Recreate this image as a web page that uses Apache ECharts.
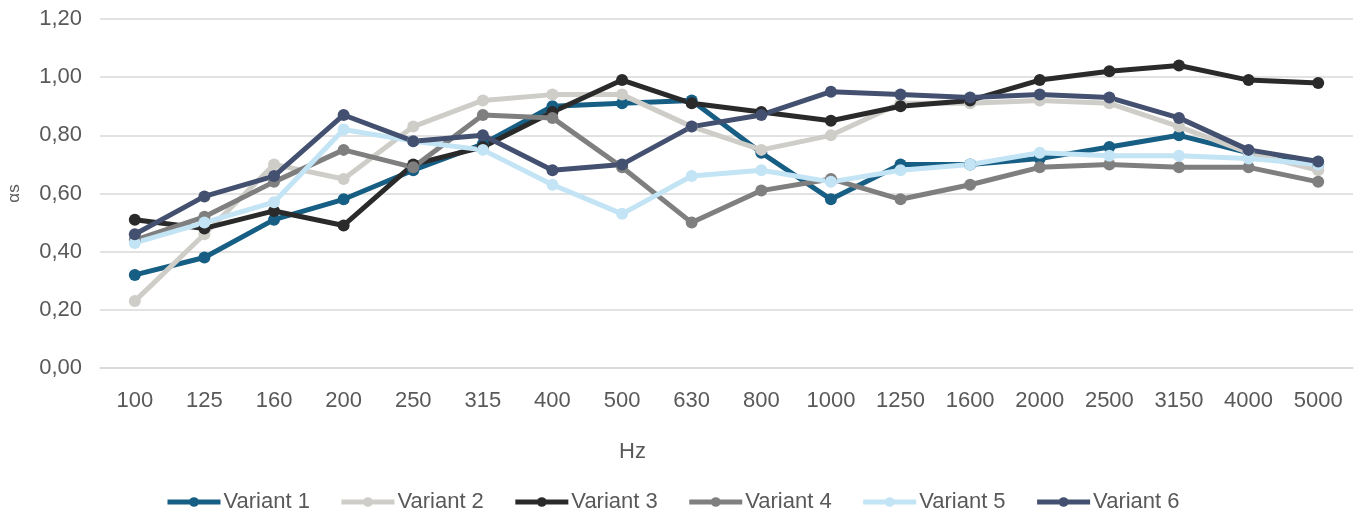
<!DOCTYPE html>
<html>
<head>
<meta charset="utf-8">
<script src="https://cdn.jsdelivr.net/npm/echarts@6/dist/echarts.min.js"></script>
<style>
  html, body { margin: 0; padding: 0; background: #fff; }
  #EchartMain { width: 1363px; height: 513px; }
</style>
</head>
<body>
<div id="EchartMain"></div>
<script>
// frequency bands (Hz)
const categories = ["100", "125", "160", "200", "250", "315", "400", "500", "630",
  "800", "1000", "1250", "1600", "2000", "2500", "3150", "4000", "5000"];

// absorption coefficient per variant
const variant1 = [0.32, 0.38, 0.51, 0.58, 0.68, 0.77, 0.90, 0.91, 0.92, 0.74, 0.58, 0.70, 0.70, 0.72, 0.76, 0.80, 0.74, 0.70];
const variant2 = [0.23, 0.46, 0.70, 0.65, 0.83, 0.92, 0.94, 0.94, 0.83, 0.75, 0.80, 0.91, 0.91, 0.92, 0.91, 0.83, 0.74, 0.68];
const variant3 = [0.51, 0.48, 0.54, 0.49, 0.70, 0.76, 0.88, 0.99, 0.91, 0.88, 0.85, 0.90, 0.92, 0.99, 1.02, 1.04, 0.99, 0.98];
const variant4 = [0.44, 0.52, 0.64, 0.75, 0.69, 0.87, 0.86, 0.69, 0.50, 0.61, 0.65, 0.58, 0.63, 0.69, 0.70, 0.69, 0.69, 0.64];
const variant5 = [0.43, 0.50, 0.57, 0.82, 0.78, 0.75, 0.63, 0.53, 0.66, 0.68, 0.64, 0.68, 0.70, 0.74, 0.73, 0.73, 0.72, 0.70];
const variant6 = [0.46, 0.59, 0.66, 0.87, 0.78, 0.80, 0.68, 0.70, 0.83, 0.87, 0.95, 0.94, 0.93, 0.94, 0.93, 0.86, 0.75, 0.71];

const names = ["Variant 1", "Variant 2", "Variant 3", "Variant 4", "Variant 5", "Variant 6"];
const values = [variant1, variant2, variant3, variant4, variant5, variant6];
const colors = ["#165e83", "#cfcdc8", "#2a2a2a", "#7f7f7f", "#c3e4f4", "#44506f"];

const yTicks = [0, 0.2, 0.4, 0.6, 0.8, 1.0, 1.2];

const textColor = "#595959";
const font = "'Liberation Sans', Arial, sans-serif";

const option = {
  animation: false,
  color: colors,
  grid: {
    left: 100,
    right: 10,
    top: 19,
    bottom: 145,
    outerBoundsMode: "none",
  },
  legend: {
    data: names,
    left: 165,
    top: 491,
    padding: 0,
    itemWidth: 53,
    itemHeight: 12,
    itemGap: 29,
    lineStyle: { width: 5 },
    textStyle: { color: textColor, fontSize: 22, fontFamily: font, padding: [0, 0, 0, -2] },
  },
  xAxis: {
    type: "category",
    data: categories,
    boundaryGap: true,
    name: "Hz",
    nameLocation: "middle",
    nameGap: 73,
    nameTextStyle: { color: textColor, fontSize: 22, fontFamily: font, padding: [0, 188, 0, 0] },
    axisLine: { lineStyle: { color: "#d9d9d9", width: 1.5 } },
    axisTick: { show: false },
    axisLabel: { color: textColor, fontSize: 22, fontFamily: font, margin: 22, interval: 0 },
  },
  yAxis: {
    type: "value",
    min: 0,
    max: 1.2,
    interval: 0.2,
    name: "αs",
    nameLocation: "middle",
    nameRotate: 90,
    nameGap: 77,
    nameTextStyle: { color: textColor, fontSize: 17, fontFamily: font },
    axisLine: { show: false },
    axisTick: { show: false },
    axisLabel: {
      color: textColor,
      fontSize: 22,
      fontFamily: font,
      margin: 18,
      formatter: (v) => {
        const t = yTicks.find((x) => Math.abs(x - v) < 1e-6);
        return (t !== undefined ? t : v).toFixed(2).replace(".", ",");
      },
    },
    splitLine: { lineStyle: { color: "#d9d9d9", width: 1.5 } },
  },
  series: names.map((n, i) => ({
    name: n,
    type: "line",
    data: values[i],
    symbol: "circle",
    symbolSize: 12,
    lineStyle: { width: 5, color: colors[i] },
    itemStyle: { color: colors[i] },
  })),
};

const myChart = echarts.init(document.getElementById("EchartMain"));
myChart.setOption(option);
</script>
</body>
</html>
